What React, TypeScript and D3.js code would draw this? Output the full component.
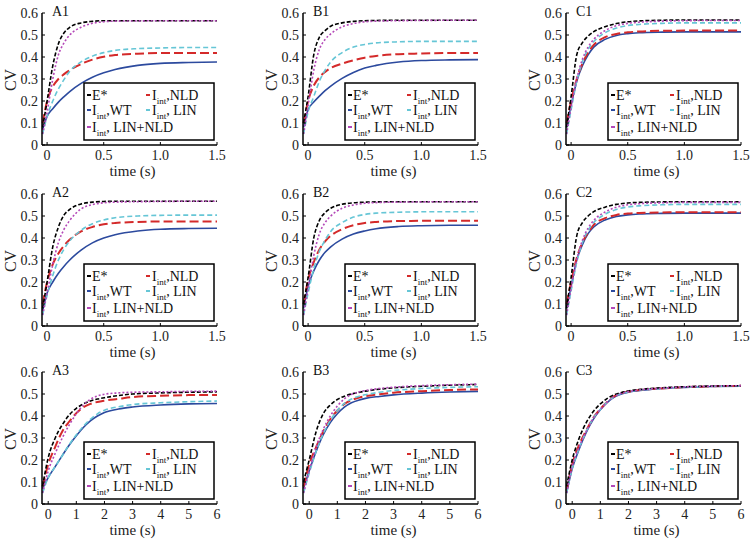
import React from 'react';
import * as d3 from 'd3';

// time samples (s)
const T_SHORT = [-0.04, 0, 0.05, 0.1, 0.15, 0.2, 0.3, 0.4, 0.5, 0.6, 0.8, 1.0, 1.25, 1.5];
const T_LONG = [-0.2, 0, 0.25, 0.5, 0.75, 1.0, 1.25, 1.5, 1.75, 2.0, 2.5, 3, 4, 5, 6];

const X_TICKS_SHORT = [0, 0.5, 1.0, 1.5];
const X_TICK_LABELS_SHORT = ['0', '0.5', '1.0', '1.5'];
const X_TICKS_LONG = [0, 1, 2, 3, 4, 5, 6];
const Y_TICKS = [0, 0.1, 0.2, 0.3, 0.4, 0.5, 0.6];

// CV curves per panel: E*, I_int WT, I_int NLD, I_int LIN, I_int LIN+NLD
const A1 = {
  E: [0.08, 0.2, 0.36, 0.46, 0.51, 0.535, 0.555, 0.562, 0.565, 0.565, 0.565, 0.565, 0.565, 0.565],
  WT: [0.07, 0.13, 0.165, 0.195, 0.22, 0.243, 0.28, 0.308, 0.328, 0.343, 0.362, 0.371, 0.375, 0.377],
  NLD: [0.1, 0.2, 0.265, 0.3, 0.322, 0.34, 0.368, 0.388, 0.401, 0.409, 0.415, 0.418, 0.418, 0.418],
  LIN: [0.05, 0.13, 0.2, 0.255, 0.298, 0.335, 0.378, 0.404, 0.42, 0.43, 0.438, 0.441, 0.443, 0.443],
  LN: [0.05, 0.15, 0.3, 0.41, 0.465, 0.5, 0.535, 0.553, 0.56, 0.563, 0.564, 0.565, 0.565, 0.565],
};
const B1 = {
  E: [0.1, 0.22, 0.41, 0.49, 0.52, 0.54, 0.555, 0.562, 0.565, 0.566, 0.567, 0.567, 0.567, 0.567],
  WT: [0.08, 0.16, 0.195, 0.222, 0.247, 0.268, 0.303, 0.33, 0.35, 0.362, 0.377, 0.384, 0.387, 0.388],
  NLD: [0.1, 0.2, 0.27, 0.308, 0.332, 0.35, 0.37, 0.385, 0.397, 0.405, 0.413, 0.416, 0.418, 0.418],
  LIN: [0.05, 0.15, 0.22, 0.29, 0.34, 0.378, 0.42, 0.445, 0.457, 0.464, 0.469, 0.471, 0.471, 0.471],
  LN: [0.05, 0.18, 0.34, 0.435, 0.48, 0.505, 0.537, 0.552, 0.56, 0.563, 0.565, 0.566, 0.567, 0.567],
};
const C1 = {
  E: [0.08, 0.22, 0.41, 0.465, 0.495, 0.515, 0.538, 0.552, 0.56, 0.564, 0.567, 0.568, 0.568, 0.568],
  WT: [0.08, 0.18, 0.29, 0.36, 0.41, 0.445, 0.48, 0.498, 0.506, 0.51, 0.513, 0.514, 0.514, 0.514],
  NLD: [0.1, 0.2, 0.3, 0.37, 0.42, 0.455, 0.49, 0.505, 0.512, 0.516, 0.519, 0.52, 0.52, 0.52],
  LIN: [0.05, 0.16, 0.29, 0.38, 0.435, 0.47, 0.51, 0.532, 0.543, 0.548, 0.553, 0.555, 0.555, 0.555],
  LN: [0.05, 0.17, 0.3, 0.39, 0.445, 0.48, 0.52, 0.542, 0.553, 0.558, 0.563, 0.565, 0.566, 0.566],
};
const A2 = {
  E: [0.08, 0.2, 0.36, 0.45, 0.505, 0.53, 0.555, 0.563, 0.566, 0.567, 0.567, 0.567, 0.567, 0.567],
  WT: [0.07, 0.15, 0.2, 0.24, 0.272, 0.3, 0.345, 0.378, 0.4, 0.415, 0.432, 0.44, 0.443, 0.444],
  NLD: [0.1, 0.2, 0.28, 0.33, 0.365, 0.393, 0.43, 0.45, 0.462, 0.468, 0.473, 0.475, 0.475, 0.475],
  LIN: [0.05, 0.14, 0.23, 0.3, 0.35, 0.387, 0.435, 0.465, 0.482, 0.492, 0.5, 0.503, 0.504, 0.504],
  LN: [0.05, 0.15, 0.28, 0.38, 0.44, 0.48, 0.532, 0.552, 0.56, 0.563, 0.565, 0.566, 0.567, 0.567],
};
const B2 = {
  E: [0.1, 0.22, 0.4, 0.48, 0.515, 0.535, 0.553, 0.56, 0.563, 0.564, 0.565, 0.565, 0.565, 0.565],
  WT: [0.08, 0.18, 0.25, 0.3, 0.335, 0.36, 0.395, 0.418, 0.432, 0.442, 0.452, 0.456, 0.458, 0.458],
  NLD: [0.1, 0.21, 0.29, 0.348, 0.385, 0.41, 0.44, 0.458, 0.468, 0.473, 0.477, 0.478, 0.478, 0.478],
  LIN: [0.05, 0.15, 0.26, 0.34, 0.39, 0.43, 0.47, 0.495, 0.507, 0.513, 0.517, 0.519, 0.519, 0.519],
  LN: [0.05, 0.17, 0.32, 0.42, 0.47, 0.5, 0.535, 0.55, 0.558, 0.561, 0.563, 0.564, 0.565, 0.565],
};
const C2 = {
  E: [0.08, 0.22, 0.41, 0.47, 0.5, 0.52, 0.54, 0.553, 0.559, 0.562, 0.564, 0.565, 0.565, 0.565],
  WT: [0.08, 0.18, 0.3, 0.37, 0.42, 0.45, 0.482, 0.498, 0.505, 0.509, 0.512, 0.513, 0.513, 0.513],
  NLD: [0.1, 0.2, 0.31, 0.38, 0.425, 0.46, 0.49, 0.505, 0.511, 0.514, 0.516, 0.517, 0.517, 0.517],
  LIN: [0.05, 0.16, 0.29, 0.38, 0.435, 0.47, 0.508, 0.53, 0.541, 0.546, 0.551, 0.553, 0.553, 0.553],
  LN: [0.05, 0.17, 0.3, 0.39, 0.445, 0.48, 0.518, 0.54, 0.551, 0.556, 0.56, 0.562, 0.562, 0.562],
};
const A3 = {
  E: [0.08, 0.21, 0.3, 0.36, 0.405, 0.435, 0.455, 0.468, 0.477, 0.483, 0.493, 0.5, 0.505, 0.508, 0.51],
  WT: [0.07, 0.12, 0.17, 0.22, 0.268, 0.31, 0.348, 0.378, 0.4, 0.416, 0.432, 0.441, 0.45, 0.455, 0.457],
  NLD: [0.08, 0.18, 0.26, 0.33, 0.375, 0.413, 0.44, 0.455, 0.464, 0.47, 0.478, 0.486, 0.492, 0.495, 0.496],
  LIN: [0.05, 0.12, 0.17, 0.22, 0.27, 0.315, 0.353, 0.385, 0.41, 0.426, 0.442, 0.452, 0.46, 0.465, 0.468],
  LN: [0.05, 0.15, 0.23, 0.3, 0.36, 0.41, 0.45, 0.476, 0.491, 0.499, 0.505, 0.508, 0.51, 0.512, 0.513],
};
const B3 = {
  E: [0.1, 0.2, 0.33, 0.41, 0.45, 0.475, 0.49, 0.5, 0.507, 0.513, 0.522, 0.528, 0.535, 0.54, 0.543],
  WT: [0.07, 0.15, 0.24, 0.315, 0.37, 0.41, 0.44, 0.46, 0.472, 0.48, 0.489, 0.496, 0.504, 0.509, 0.512],
  NLD: [0.08, 0.18, 0.26, 0.33, 0.385, 0.425, 0.455, 0.472, 0.483, 0.49, 0.499, 0.506, 0.513, 0.518, 0.521],
  LIN: [0.05, 0.14, 0.24, 0.32, 0.38, 0.425, 0.457, 0.477, 0.489, 0.497, 0.508, 0.516, 0.525, 0.53, 0.533],
  LN: [0.05, 0.15, 0.26, 0.34, 0.4, 0.445, 0.478, 0.498, 0.509, 0.516, 0.525, 0.531, 0.538, 0.542, 0.545],
};
const C3 = {
  E: [0.08, 0.2, 0.3, 0.37, 0.42, 0.455, 0.48, 0.497, 0.507, 0.514, 0.522, 0.527, 0.533, 0.536, 0.538],
  WT: [0.05, 0.16, 0.25, 0.325, 0.385, 0.428, 0.462, 0.486, 0.5, 0.508, 0.517, 0.523, 0.53, 0.534, 0.536],
  NLD: [0.06, 0.18, 0.27, 0.335, 0.392, 0.432, 0.465, 0.49, 0.504, 0.511, 0.519, 0.524, 0.531, 0.535, 0.537],
  LIN: [0.05, 0.16, 0.255, 0.33, 0.39, 0.43, 0.464, 0.488, 0.502, 0.51, 0.519, 0.524, 0.531, 0.535, 0.537],
  LN: [0.05, 0.17, 0.26, 0.33, 0.39, 0.43, 0.464, 0.489, 0.503, 0.511, 0.52, 0.525, 0.532, 0.536, 0.538],
};

const PANELS = [
  { id: 'A1', col: 0, row: 0, data: A1 },
  { id: 'B1', col: 1, row: 0, data: B1 },
  { id: 'C1', col: 2, row: 0, data: C1 },
  { id: 'A2', col: 0, row: 1, data: A2 },
  { id: 'B2', col: 1, row: 1, data: B2 },
  { id: 'C2', col: 2, row: 1, data: C2 },
  { id: 'A3', col: 0, row: 2, data: A3 },
  { id: 'B3', col: 1, row: 2, data: B3 },
  { id: 'C3', col: 2, row: 2, data: C3 },
];

const STYLE: Record<string, { color: string; dash: string; width: number }> = {
  E: { color: '#000000', dash: '4,2', width: 1.6 },
  WT: { color: '#2c4a9e', dash: '', width: 1.6 },
  NLD: { color: '#d42a2a', dash: '9,4', width: 2 },
  LIN: { color: '#66c6d6', dash: '5,3', width: 1.6 },
  LN: { color: '#b448b8', dash: '2,2', width: 1.6 },
};
const DRAW_ORDER = ['WT', 'NLD', 'LIN', 'E', 'LN'];

const FONT = '"Liberation Serif", "Times New Roman", "DejaVu Serif", serif';
const COL_LEFT = [42, 303, 566];
const ROW_BOTTOM = [145, 326, 504];
const W = 175;
const H = 132;

const Sub = ({ pre, post }: { pre: string; post: string }) => (
  <>
    <tspan>{pre}</tspan>
    <tspan dy={4} fontSize={9}>int</tspan>
    <tspan dy={-4}>{post}</tspan>
  </>
);

function Panel({ p }: { p: (typeof PANELS)[number] }) {
  const long = p.row === 2;
  const ts = long ? T_LONG : T_SHORT;
  const left = COL_LEFT[p.col];
  const bottom = ROW_BOTTOM[p.row];
  const top = bottom - H;
  const right = left + W;

  const x = d3.scaleLinear().domain(long ? [-0.22, 6] : [-0.045, 1.5]).range([left, right]);
  const y = d3.scaleLinear().domain([0, 0.6]).range([bottom, top]);
  const line = d3
    .line<number>()
    .x((_, i) => x(ts[i]))
    .y((d) => y(d))
    .curve(d3.curveMonotoneX);

  const xTicks = long ? X_TICKS_LONG : X_TICKS_SHORT;
  const xLabels = long ? X_TICKS_LONG.map(String) : X_TICK_LABELS_SHORT;

  const bx = right - 133;
  const by = bottom - 62;

  return (
    <g>
      {DRAW_ORDER.map((k) => (
        <path
          key={k}
          d={line((p.data as any)[k]) || ''}
          fill="none"
          stroke={STYLE[k].color}
          strokeWidth={STYLE[k].width}
          strokeDasharray={STYLE[k].dash}
        />
      ))}

      {/* legend */}
      <rect x={bx} y={by} width={130} height={57} fill="#fff" stroke="#000" strokeWidth={1.5} />
      {[
        { k: 'E', dx: 3, dy: 17 },
        { k: 'NLD', dx: 62, dy: 17 },
        { k: 'WT', dx: 3, dy: 32 },
        { k: 'LIN', dx: 62, dy: 32 },
        { k: 'LN', dx: 3, dy: 49 },
      ].map((e) => (
        <line
          key={e.k}
          x1={bx + e.dx}
          x2={bx + e.dx + 4}
          y1={by + e.dy - 5}
          y2={by + e.dy - 5}
          stroke={STYLE[e.k].color}
          strokeWidth={2}
        />
      ))}
      <g fontSize={14} fill="#111">
        <text x={bx + 8} y={by + 17}>E*</text>
        <text x={bx + 68} y={by + 17}><Sub pre="I" post=",NLD" /></text>
        <text x={bx + 8} y={by + 32}><Sub pre="I" post=",WT" /></text>
        <text x={bx + 68} y={by + 32}><Sub pre="I" post=", LIN" /></text>
        <text x={bx + 8} y={by + 49}><Sub pre="I" post=", LIN+NLD" /></text>
      </g>

      {/* axes */}
      <line x1={left} x2={left} y1={top} y2={bottom} stroke="#000" strokeWidth={1.5} />
      <line x1={left} x2={right} y1={bottom} y2={bottom} stroke="#000" strokeWidth={1.5} />
      {Y_TICKS.map((v) => (
        <g key={v}>
          <line x1={left} x2={left + 3} y1={y(v)} y2={y(v)} stroke="#000" />
          <text x={left - 4} y={y(v)} dy="0.35em" textAnchor="end" fontSize={14} fill="#222">
            {v === 0 ? '0' : v.toFixed(1)}
          </text>
        </g>
      ))}
      {xTicks.map((v, i) => (
        <g key={v}>
          <line x1={x(v)} x2={x(v)} y1={bottom} y2={bottom - 3} stroke="#000" />
          <text x={x(v)} y={bottom + 15} textAnchor="middle" fontSize={14} fill="#222">
            {xLabels[i]}
          </text>
        </g>
      ))}
      <text x={(left + right) / 2 + 3} y={bottom + 31} textAnchor="middle" fontSize={15} fill="#222">
        time (s)
      </text>
      <text
        transform={`translate(${left - 26},${(top + bottom) / 2 + 1}) rotate(-90)`}
        textAnchor="middle"
        fontSize={16}
        fill="#222"
      >
        CV
      </text>
      <text x={left + 10} y={top + 3} fontSize={14} fill="#111">{p.id}</text>
    </g>
  );
}

export default function App() {
  return (
    <svg
      width={750}
      height={539}
      style={{ position: 'absolute', left: 0, top: 0, background: '#fff', fontFamily: FONT }}
    >
      <rect width={750} height={539} fill="#fff" />
      {PANELS.map((p) => (
        <Panel key={p.id} p={p} />
      ))}
    </svg>
  );
}
